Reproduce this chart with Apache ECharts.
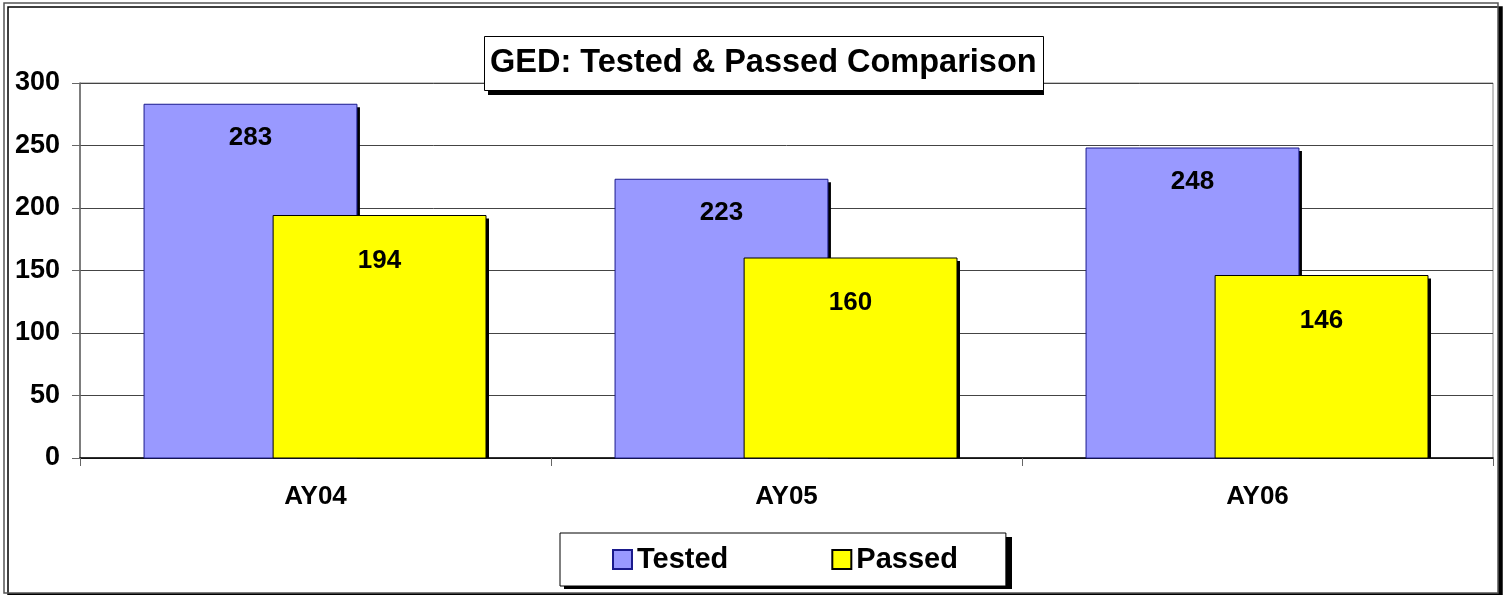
<!DOCTYPE html>
<html>
<head>
<meta charset="utf-8">
<script src="https://cdn.jsdelivr.net/npm/echarts@6/dist/echarts.min.js"></script>
<style>
  html, body { margin: 0; padding: 0; background: #fff; }
  #main { width: 1506px; height: 595px; }
</style>
</head>
<body>
<div id="main"></div>
<script>
var categories = ['AY04', 'AY05', 'AY06'];
var tested = [283, 223, 248];
var passed = [194, 160, 146];
var yTicks = [0, 50, 100, 150, 200, 250, 300];

var font = '"Liberation Sans", Arial, sans-serif';
var myChart = echarts.init(document.getElementById('main'));

// bar with a hard black drop shadow, like the old office charts
function barRenderer(offset, fill, stroke, labelDy) {
  return function (params, api) {
    var cat = api.value(0);
    var val = api.value(1);
    var top = api.coord([cat, val]);
    var base = api.coord([cat, 0]);
    var band = api.size([1, 0])[0];
    var w = band * 0.452;
    var x = top[0] + band * offset;
    var h = base[1] - top[1];
    return {
      type: 'group',
      children: [
        { type: 'rect', shape: { x: x + 3, y: top[1] + 3, width: w, height: h - 3 }, style: { fill: '#000' } },
        { type: 'rect', shape: { x: x, y: top[1], width: w, height: h }, style: { fill: fill, stroke: stroke, lineWidth: 1 } },
        {
          type: 'text', z2: 10,
          style: {
            text: String(val), x: x + w / 2, y: top[1] + labelDy,
            align: 'center', verticalAlign: 'middle',
            font: 'bold 26px ' + font, fill: '#000'
          }
        }
      ]
    };
  };
}

myChart.setOption({
  animation: false,
  textStyle: { fontFamily: font },
  graphic: [
    {
      type: 'rect', z: -10,
      shape: { x: 4, y: 3, width: 1494, height: 590 },
      style: { fill: '#fff', stroke: '#555', lineWidth: 1.5, shadowColor: '#000', shadowOffsetX: 4, shadowOffsetY: 4, shadowBlur: 0 }
    },
    { type: 'rect', z: 1, shape: { x: 488, y: 40, width: 556, height: 55 }, style: { fill: '#000' } },
    { type: 'rect', z: 1, shape: { x: 564, y: 537, width: 448, height: 52 }, style: { fill: '#000' } }
  ],
  title: {
    text: 'GED: Tested & Passed Comparison',
    left: 484,
    top: 36,
    padding: [10, 7, 10, 6],
    backgroundColor: '#fff',
    borderColor: '#000',
    borderWidth: 1,
    textStyle: { fontFamily: font, fontSize: 32.5, fontWeight: 'bold', color: '#000', lineHeight: 35 }
  },
  legend: {
    data: ['Tested', 'Passed'],
    left: 560,
    top: 533,
    padding: [12, 48, 12, 52],
    itemGap: 103,
    itemWidth: 19,
    itemHeight: 19,
    icon: 'rect',
    backgroundColor: '#fff',
    borderColor: '#000',
    borderWidth: 1,
    textStyle: { fontFamily: font, fontSize: 29, fontWeight: 'bold', color: '#000' }
  },
  grid: {
    left: 80, right: 13, top: 83, bottom: 137,
    show: true, borderColor: '#888', borderWidth: 1
  },
  xAxis: {
    type: 'category',
    data: categories,
    axisLine: { lineStyle: { color: '#000', width: 1.5 } },
    axisTick: { show: true, length: 8, lineStyle: { color: '#666' } },
    axisLabel: { margin: 26, fontFamily: font, fontSize: 26, fontWeight: 'bold', color: '#000' }
  },
  yAxis: {
    type: 'value',
    min: yTicks[0],
    max: yTicks[yTicks.length - 1],
    interval: 50,
    axisLine: { show: true, lineStyle: { color: '#666', width: 1.5 } },
    axisTick: { show: true, length: 8, lineStyle: { color: '#666' } },
    axisLabel: { margin: 20, fontFamily: font, fontSize: 27, fontWeight: 'bold', color: '#000' },
    splitLine: { lineStyle: { color: '#444', width: 1 } }
  },
  series: [
    {
      name: 'Tested',
      type: 'custom',
      encode: { x: 0, y: 1 },
      data: tested.map(function (v, i) { return [i, v]; }),
      itemStyle: { color: '#9999FF', borderColor: '#1a1a8c', borderWidth: 1 },
      renderItem: barRenderer(-0.364, '#9999FF', '#1a1a8c', 34)
    },
    {
      name: 'Passed',
      type: 'custom',
      encode: { x: 0, y: 1 },
      data: passed.map(function (v, i) { return [i, v]; }),
      itemStyle: { color: '#FFFF00', borderColor: '#000', borderWidth: 1 },
      renderItem: barRenderer(-0.090, '#FFFF00', '#000', 45)
    }
  ]
});
</script>
</body>
</html>
